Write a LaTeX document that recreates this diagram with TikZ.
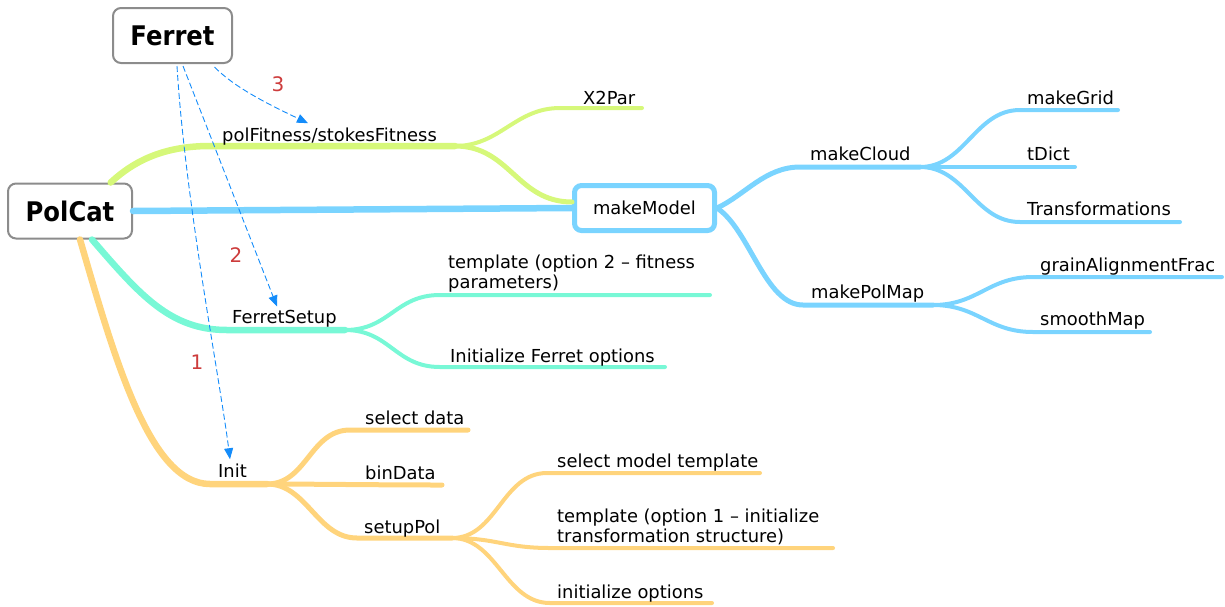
\documentclass[tikz,border=0pt]{standalone}
\usepackage{fontspec}
\setmainfont{DejaVu Sans}
\newfontfamily\rootfont[FakeStretch=0.9]{DejaVu Sans}
\usetikzlibrary{arrows.meta}

\definecolor{skyline}{RGB}{122,212,255}
\definecolor{limeline}{RGB}{214,248,122}
\definecolor{mintline}{RGB}{120,248,214}
\definecolor{sandline}{RGB}{255,212,124}
\definecolor{linkblue}{RGB}{20,140,250}
\definecolor{numred}{RGB}{205,60,60}
\definecolor{boxgray}{RGB}{140,140,140}

\begin{document}
\begin{tikzpicture}[x=1pt, y=-1pt,
  every node/.style={font=\fontsize{17.9}{20}\selectfont, inner sep=0pt},
  topic/.style={anchor=base west, align=left},
  root/.style={draw=boxgray, line width=2pt, rounded corners=8pt, fill=white,
    font=\fontsize{27}{30}\rootfont\bfseries, minimum height=55pt},
  trunk/.style={line width=6.5pt, line cap=round},
  limb/.style={line width=5pt, line cap=round},
  twig/.style={line width=4pt, line cap=round},
  link/.style={linkblue, line width=0.9pt, dash pattern=on 6pt off 3pt,
    -{Triangle[length=11pt,width=9pt]}},
  stepnum/.style={numred, font=\fontsize{20}{22}\selectfont}]
  \useasboundingbox (0,0) rectangle (1225,606);

  % the two roots and the model box
  \node[root, minimum width=124pt] (polcat) at (70,211) {PolCat};
  \node[root, minimum width=119pt] (ferret) at (172.5,35.5) {Ferret};
  \node[draw=skyline, line width=5pt, rounded corners=7pt, fill=white,
        minimum width=140pt, minimum height=45pt] (model) at (644.5,208) {makeModel};

  % underline end points of each topic
  \coordinate (fit-a) at (210,146);      \coordinate (fit-b) at (455,146);
  \coordinate (xpar-a) at (560,108);     \coordinate (xpar-b) at (642,108);
  \coordinate (cloud-a) at (800,167);    \coordinate (cloud-b) at (920,167);
  \coordinate (grid-a) at (1020,110);    \coordinate (grid-b) at (1118,110);
  \coordinate (tdict-b) at (1075,167);
  \coordinate (transf-a) at (1020,222);  \coordinate (transf-b) at (1180,222);
  \coordinate (polmap-a) at (803,305);   \coordinate (polmap-b) at (933,305);
  \coordinate (grain-a) at (1033,277);   \coordinate (grain-b) at (1222,277);
  \coordinate (smooth-a) at (1033,332);  \coordinate (smooth-b) at (1150,332);
  \coordinate (fsetup-a) at (227,330);   \coordinate (fsetup-b) at (345,330);
  \coordinate (tmpltwo-a) at (440,295);  \coordinate (tmpltwo-b) at (710,295);
  \coordinate (ferropt-a) at (440,367);  \coordinate (ferropt-b) at (665,367);
  \coordinate (init-a) at (210,484);     \coordinate (init-b) at (267,484);
  \coordinate (seldata-a) at (350,430);  \coordinate (seldata-b) at (468,430);
  \coordinate (bindata-b) at (442,485);
  \coordinate (setup-a) at (357,538);    \coordinate (setup-b) at (452,538);
  \coordinate (selmodel-a) at (547,473); \coordinate (selmodel-b) at (760,473);
  \coordinate (tmplone-a) at (550,548);  \coordinate (tmplone-b) at (833,548);
  \coordinate (initopt-a) at (550,603);  \coordinate (initopt-b) at (712,603);

  % fitness branch
  \begin{scope}[limeline]
    \draw[trunk] (polcat.35) .. controls (135,160) and (165,146) .. (fit-a) -- (fit-b);
    \draw[twig] (fit-b) .. controls +(45,0) and +(-45,0) .. (xpar-a) -- (xpar-b);
    \draw[limb] (fit-b) .. controls +(55,0) and +(-55,0) .. (model.west |- 0,202);
  \end{scope}

  % model branch
  \begin{scope}[skyline]
    \draw[trunk] (polcat.east) -- (model.west);
    \draw[limb] (model.east) .. controls (745,195) and (765,167) .. (cloud-a) -- (cloud-b);
    \draw[limb] (model.east) .. controls (750,230) and (765,305) .. (polmap-a) -- (polmap-b);
    \draw[twig] (cloud-b) .. controls +(45,0) and +(-45,0) .. (grid-a) -- (grid-b);
    \draw[twig] (cloud-b) -- (tdict-b);
    \draw[twig] (cloud-b) .. controls +(45,0) and +(-45,0) .. (transf-a) -- (transf-b);
    \draw[twig] (polmap-b) .. controls +(45,0) and +(-45,0) .. (grain-a) -- (grain-b);
    \draw[twig] (polmap-b) .. controls +(45,0) and +(-45,0) .. (smooth-a) -- (smooth-b);
  \end{scope}

  % ferret setup branch
  \begin{scope}[mintline]
    \draw[trunk] ([xshift=22pt]polcat.south) .. controls (140,295) and (170,330) .. (fsetup-a) -- (fsetup-b);
    \draw[twig] (fsetup-b) .. controls +(45,0) and +(-45,0) .. (tmpltwo-a) -- (tmpltwo-b);
    \draw[twig] (fsetup-b) .. controls +(45,0) and +(-45,0) .. (ferropt-a) -- (ferropt-b);
  \end{scope}

  % init branch
  \begin{scope}[sandline]
    \draw[trunk] ([xshift=10pt]polcat.south) .. controls (115,360) and (150,484) .. (init-a) -- (init-b);
    \draw[limb] (init-b) .. controls +(40,0) and +(-40,0) .. (seldata-a) -- (seldata-b);
    \draw[limb] (init-b) .. controls +(40,0) and +(-60,0) .. (bindata-b);
    \draw[limb] (init-b) .. controls +(40,0) and +(-40,0) .. (setup-a) -- (setup-b);
    \draw[twig] (setup-b) .. controls +(45,0) and +(-45,0) .. (selmodel-a) -- (selmodel-b);
    \draw[twig] (setup-b) .. controls +(45,0) and +(-45,0) .. (tmplone-a) -- (tmplone-b);
    \draw[twig] (setup-b) .. controls +(45,0) and +(-45,0) .. (initopt-a) -- (initopt-b);
  \end{scope}

  % topic labels
  \node[topic] (fit) at (222,141) {polFitness/stokesFitness};
  \node[topic] (xpar) at (583,104) {X2Par};
  \node[topic] (cloud) at (810,160) {makeCloud};
  \node[topic] (grid) at (1027,104) {makeGrid};
  \node[topic] (tdict) at (1027,160) {tDict};
  \node[topic] (transf) at (1027,215) {Transformations};
  \node[topic] (polmap) at (811,298) {makePolMap};
  \node[topic] (grain) at (1040,271) {grainAlignmentFrac};
  \node[topic] (smooth) at (1040,325) {smoothMap};
  \node[topic] (fsetup) at (232,323) {FerretSetup};
  \node[topic] (tmpltwo) at (448,288) {template (option 2 -- fitness\\parameters)};
  \node[topic] (ferropt) at (450,362) {Initialize Ferret options};
  \node[topic] (init) at (218,477) {Init};
  \node[topic] (seldata) at (365,424) {select data};
  \node[topic] (bindata) at (365,479) {binData};
  \node[topic] (setup) at (364,533) {setupPol};
  \node[topic] (selmodel) at (557,467) {select model template};
  \node[topic] (tmplone) at (557,542) {template (option 1 -- initialize\\transformation structure)};
  \node[topic] (initopt) at (557,598) {initialize options};

  % calls from Ferret, in order
  \draw[link] ([xshift=4.5pt,yshift=-2pt]ferret.south) .. controls (185,200) and (220,380) .. ([xshift=12pt,yshift=4pt]init.north west);
  \draw[link] ([xshift=10.5pt,yshift=-2pt]ferret.south) -- ([xshift=45pt,yshift=3pt]fsetup.north west);
  \draw[link] ([xshift=42pt,yshift=-3pt]ferret.south) .. controls (235,88) and (270,105) .. ([xshift=86pt,yshift=4pt]fit.north west);
  \node[stepnum] (n1) at (197,362) {1};
  \node[stepnum] (n2) at (236,255) {2};
  \node[stepnum] (n3) at (278,84) {3};
\end{tikzpicture}
\end{document}
